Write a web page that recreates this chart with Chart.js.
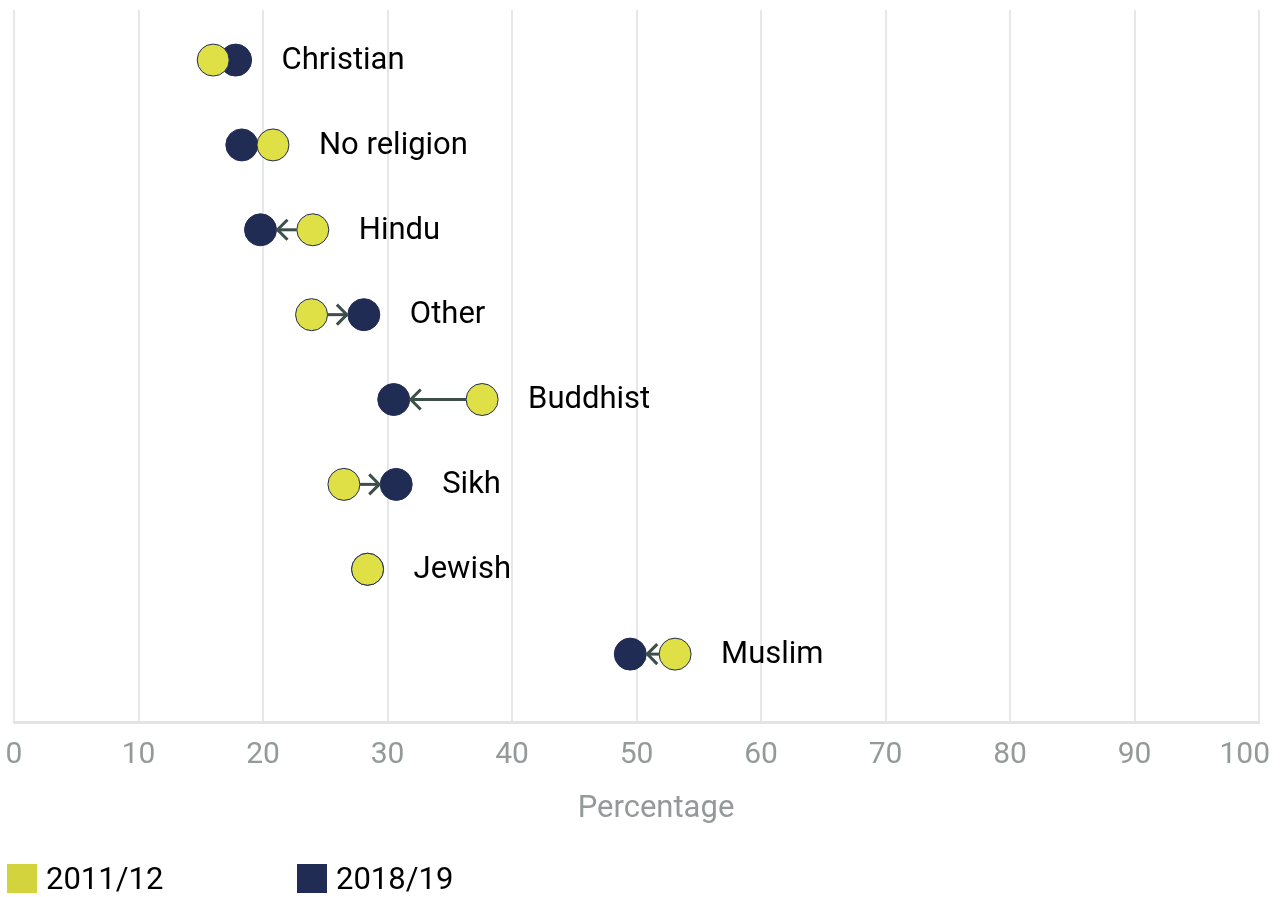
<!DOCTYPE html>
<html>
<head>
<meta charset="utf-8">
<script src="https://cdn.jsdelivr.net/npm/chart.js@4.4.1/dist/chart.umd.min.js"></script>
<style>
  html, body { margin: 0; padding: 0; background: #ffffff; }
  #wrap { position: relative; width: 1281px; height: 897px; }
</style>
</head>
<body>
<div id="wrap"><canvas id="c" width="1281" height="897"></canvas></div>
<script>
// ---- Data ----
const categories = ["Christian", "No religion", "Hindu", "Other", "Buddhist", "Sikh", "Jewish", "Muslim"];
const values2011 = [16.0, 20.8, 24.0, 23.9, 37.6, 26.5, 28.4, 53.1];
const values2018 = [17.8, 18.3, 19.8, 28.1, 30.5, 30.7, 28.4, 49.5];
const seriesNames = ["2011/12", "2018/19"];
const xTicks = [0, 10, 20, 30, 40, 50, 60, 70, 80, 90, 100];
const xTitle = "Percentage";

const YELLOW = "#dfdf46";
const YELLOW_LEGEND = "#d3d33e";
const NAVY = "#212c55";
const ARROW = "#3d4f4a";
const TICK_GREY = "#939a99";
const FONT = "Roboto, 'Noto Sans', sans-serif";
const LAST_TICK = xTicks[xTicks.length - 1];

const toPoints = arr => arr.map((v, i) => ({ x: v, y: i }));

const arrowsAndLabels = {
  id: "arrowsAndLabels",
  afterDatasetsDraw(chart) {
    const ctx = chart.ctx;
    const xs = chart.scales.x, ys = chart.scales.y;
    const r = 16;
    ctx.save();
    categories.forEach((cat, i) => {
      const y = ys.getPixelForValue(i);
      const xa = xs.getPixelForValue(values2011[i]);
      const xb = xs.getPixelForValue(values2018[i]);
      const gap = Math.abs(xb - xa);
      if (gap > 2 * r + 2) {
        const dir = xb > xa ? 1 : -1;
        const start = xa + dir * r;
        const tip = xb - dir * (r + 1);
        ctx.strokeStyle = ARROW;
        ctx.lineWidth = 3;
        ctx.lineCap = "butt";
        ctx.beginPath();
        ctx.moveTo(start, y);
        ctx.lineTo(tip, y);
        ctx.stroke();
        ctx.beginPath();
        ctx.moveTo(tip - dir * 10, y - 10);
        ctx.lineTo(tip, y);
        ctx.lineTo(tip - dir * 10, y + 10);
        ctx.stroke();
      }
      const xr = Math.max(xa, xb);
      ctx.fillStyle = "#000000";
      ctx.font = "31px " + FONT;
      ctx.textAlign = "left";
      ctx.textBaseline = "middle";
      ctx.fillText(cat, xr + 46, y + 1);
    });
    ctx.restore();
  },
  afterDraw(chart) {
    const ctx = chart.ctx;
    const xs = chart.scales.x;
    ctx.save();
    // last tick label, justified to stay inside the canvas
    ctx.fillStyle = TICK_GREY;
    ctx.font = "30px " + FONT;
    ctx.textAlign = "right";
    ctx.textBaseline = "middle";
    const tickY = xs.top + 15 + 18;
    ctx.fillText(String(LAST_TICK), Math.min(xs.getPixelForValue(LAST_TICK) + 25, chart.width - 11), tickY);
    // axis title
    ctx.font = "31px " + FONT;
    ctx.textAlign = "center";
    ctx.fillText(xTitle, 656, xs.top + 87);
    // legend
    const items = [
      { text: seriesNames[0], color: YELLOW_LEGEND, x: 7 },
      { text: seriesNames[1], color: NAVY, x: 297 }
    ];
    items.forEach(it => {
      ctx.fillStyle = it.color;
      ctx.fillRect(it.x, 864, 30, 29);
      ctx.fillStyle = "#000000";
      ctx.font = "31px " + FONT;
      ctx.textAlign = "left";
      ctx.textBaseline = "middle";
      ctx.fillText(it.text, it.x + 39, 881);
    });
    ctx.restore();
  }
};

new Chart(document.getElementById("c"), {
  type: "scatter",
  data: {
    datasets: [
      {
        label: seriesNames[0],
        data: toPoints(values2011),
        backgroundColor: YELLOW,
        borderColor: NAVY,
        borderWidth: 1,
        pointRadius: 16,
        pointHoverRadius: 16
      },
      {
        label: seriesNames[1],
        data: toPoints(values2018),
        backgroundColor: NAVY,
        borderColor: NAVY,
        borderWidth: 1,
        pointRadius: 16,
        pointHoverRadius: 16
      }
    ]
  },
  options: {
    responsive: false,
    animation: false,
    layout: { autoPadding: false, padding: { top: 10, left: 14, right: 22, bottom: 119 } },
    plugins: {
      legend: { display: false },
      tooltip: { enabled: false }
    },
    scales: {
      x: {
        type: "linear",
        min: xTicks[0],
        max: LAST_TICK,
        afterBuildTicks: s => { s.ticks = xTicks.map(v => ({ value: v })); },
        grid: { color: "#e5e7eb", lineWidth: 2, drawTicks: true, tickLength: 10, tickColor: "rgba(0,0,0,0)" },
        border: { color: "#e2e4e8", width: 3 },
        ticks: {
          color: TICK_GREY,
          font: { family: FONT, size: 30 },
          padding: 5,
          callback: v => (v === LAST_TICK ? "" : String(v))
        },
        title: { display: false }
      },
      y: {
        type: "linear",
        reverse: true,
        min: -0.59,
        max: 7.8,
        display: false
      }
    }
  },
  plugins: [arrowsAndLabels]
});
</script>
</body>
</html>
